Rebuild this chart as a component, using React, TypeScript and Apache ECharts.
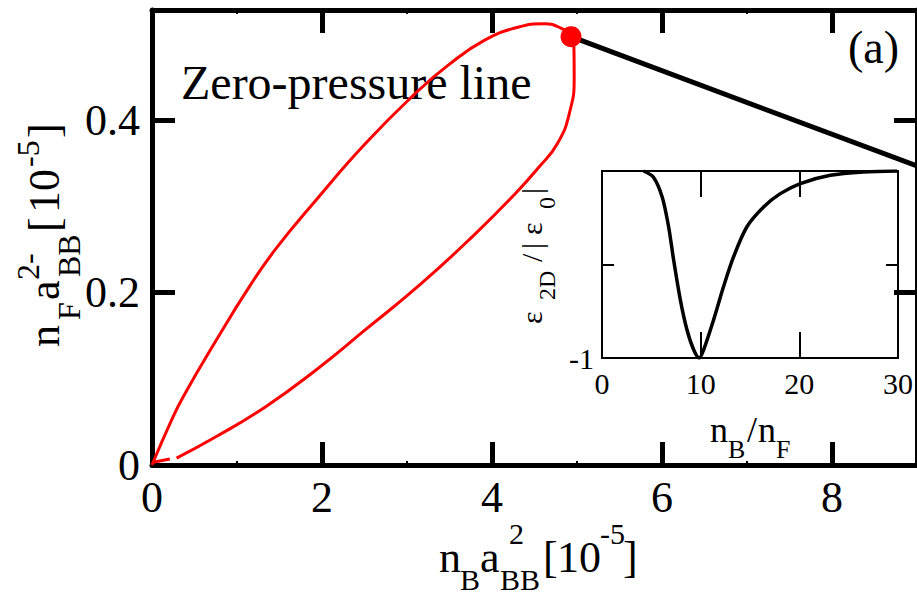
import React, { useEffect, useRef } from "react";
import * as echarts from "echarts";

const FONT = "Liberation Serif, Times New Roman, serif";

// Zero-pressure loop, traced from the origin along the upper branch to the marked point
const UPPER_X = [0, 0.23, 0.366, 0.757, 1.146, 1.458, 1.926, 2.511, 3.096, 3.485, 3.914, 4.304, 4.616, 4.81, 4.93];
const UPPER_Y = [0, 0.052, 0.079, 0.145, 0.207, 0.251, 0.307, 0.373, 0.431, 0.464, 0.493, 0.508, 0.512, 0.507, 0.497];
// ...and back down the lower branch towards the origin
const LOWER_X = [4.965, 4.967, 4.915, 4.77, 4.538, 4.265, 3.8, 3.173, 2.511, 1.926, 1.342, 0.757, 0.289];
const LOWER_Y = [0.478, 0.45, 0.41, 0.373, 0.344, 0.314, 0.268, 0.211, 0.157, 0.11, 0.068, 0.033, 0.008];
// short piece of the lower branch right at the origin
const STUB_X = [0, 0.21];
const STUB_Y = [0.003, 0.007];
// straight black line leaving the marked point
const TIE_X = [4.93, 9];
const TIE_Y = [0.497, 0.347];
const MARK_X = 4.93;
const MARK_Y = 0.497;

// inset: binding energy versus density ratio
const RATIO = [4.2, 5.2, 6.1, 6.75, 7.26, 7.94, 8.61, 9.29, 9.85, 10.3, 11.31, 12.32, 13.34, 14.69, 16.38, 18.07, 20.1, 23.14, 26.5, 29.9];
const ENERGY = [0, -0.032, -0.139, -0.298, -0.476, -0.689, -0.849, -0.956, -1, -0.956, -0.796, -0.618, -0.458, -0.298, -0.192, -0.121, -0.067, -0.023, -0.005, 0];

const zip = (xs: number[], ys: number[]) => xs.map((x, i) => [x, ys[i]]);

type Piece = { t: string; dx: number; k: "m" | "sub" | "sup" };

function formula(
  pieces: Piece[],
  x: number,
  y: number,
  rotation: number,
  main: number,
  small: number,
  subDy: number,
  supDy: number
) {
  return {
    type: "group",
    x,
    y,
    rotation,
    children: pieces.map((p) => ({
      type: "text",
      x: p.dx,
      y: p.k === "sub" ? subDy : p.k === "sup" ? supDy : 0,
      style: {
        text: p.t,
        fontSize: p.k === "m" ? main : small,
        fontFamily: FONT,
        fill: "#000",
        align: "left",
        verticalAlign: "middle",
        textAlign: "left",
        textVerticalAlign: "middle",
      },
    })),
  };
}

const X_NAME: Piece[] = [
  { t: "n", dx: 0, k: "m" },
  { t: "B", dx: 21, k: "sub" },
  { t: "a", dx: 41, k: "m" },
  { t: "BB", dx: 61, k: "sub" },
  { t: "2", dx: 70, k: "sup" },
  { t: "[", dx: 104, k: "m" },
  { t: "10", dx: 118, k: "m" },
  { t: "-5", dx: 161, k: "sup" },
  { t: "]", dx: 184, k: "m" },
];

const Y_NAME: Piece[] = [
  { t: "n", dx: 0, k: "m" },
  { t: "F", dx: 27, k: "sub" },
  { t: "a", dx: 47, k: "m" },
  { t: "2-", dx: 67, k: "sup" },
  { t: "BB", dx: 70, k: "sub" },
  { t: "[", dx: 115, k: "m" },
  { t: "10", dx: 134, k: "m" },
  { t: "-5", dx: 180, k: "sup" },
  { t: "]", dx: 209, k: "m" },
];

const INSET_X_NAME: Piece[] = [
  { t: "n", dx: 0, k: "m" },
  { t: "B", dx: 18, k: "sub" },
  { t: "/", dx: 37, k: "m" },
  { t: "n", dx: 48, k: "m" },
  { t: "F", dx: 66, k: "sub" },
];

const INSET_Y_NAME: Piece[] = [
  { t: "ε", dx: 3, k: "m" },
  { t: "2D", dx: 27, k: "sub" },
  { t: "/", dx: 65, k: "m" },
  { t: "|", dx: 78, k: "m" },
  { t: "ε", dx: 92, k: "m" },
  { t: "0", dx: 118, k: "sub" },
  { t: "|", dx: 133, k: "m" },
];

function frameAxis(extra: any) {
  return {
    type: "value",
    splitLine: { show: false },
    axisLine: { show: true, onZero: false, lineStyle: { color: "#000", width: 5 } },
    axisTick: { show: true, inside: true, length: 23, lineStyle: { color: "#000", width: 5 } },
    axisLabel: { show: false },
    ...extra,
  };
}

function insetAxis(extra: any, tickLen: number) {
  return {
    type: "value",
    splitLine: { show: false },
    axisLine: { show: true, onZero: false, lineStyle: { color: "#000", width: 2 } },
    axisTick: { show: true, inside: true, length: tickLen, lineStyle: { color: "#000", width: 2 } },
    axisLabel: { show: false },
    ...extra,
  };
}

const plain = (text: string, x: number, y: number, size: number) => ({
  type: "text",
  x,
  y,
  style: {
    text,
    fontSize: size,
    fontFamily: FONT,
    fill: "#000",
    align: "left",
    verticalAlign: "middle",
    textAlign: "left",
    textVerticalAlign: "middle",
  },
});

export default function App() {
  const ref = useRef<HTMLDivElement>(null);

  useEffect(() => {
    document.body.style.margin = "0";
    if (!ref.current) return;
    const chart = echarts.init(ref.current, null, { renderer: "svg" });

    const mainLabel = { show: true, fontSize: 44, fontFamily: FONT, color: "#000", showMaxLabel: false };
    const minor = { show: true, splitNumber: 2, length: 4, lineStyle: { color: "#000", width: 2 } };

    chart.setOption({
      animation: false,
      backgroundColor: "#fff",
      grid: [
        { left: 152, top: 10, right: -4, bottom: 135 },
        { left: 602, top: 171, right: 19, bottom: 242 },
      ],
      xAxis: [
        frameAxis({ gridIndex: 0, min: 0, max: 9, interval: 2, position: "bottom", minorTick: minor, axisLabel: { ...mainLabel, margin: 10 } }),
        frameAxis({ gridIndex: 0, min: 0, max: 9, interval: 2, position: "top", minorTick: minor }),
        insetAxis({ gridIndex: 1, min: 0, max: 30, interval: 10, position: "bottom", axisLabel: { show: true, fontSize: 30, fontFamily: FONT, color: "#000", margin: 10 } }, 26),
        insetAxis({ gridIndex: 1, min: 0, max: 30, interval: 10, position: "top" }, 26),
      ],
      yAxis: [
        frameAxis({ gridIndex: 0, min: 0, max: 0.528, interval: 0.2, position: "left", axisLabel: { ...mainLabel, margin: 12 } }),
        frameAxis({ gridIndex: 0, min: 0, max: 0.528, interval: 0.2, position: "right" }),
        insetAxis({
          gridIndex: 1, min: -1, max: 0, interval: 0.5, position: "left",
          axisLabel: { show: true, fontSize: 30, fontFamily: FONT, color: "#000", margin: 8, formatter: (v: number) => (v === -1 ? "-1" : "") },
        }, 12),
        insetAxis({ gridIndex: 1, min: -1, max: 0, interval: 0.5, position: "right" }, 12),
      ],
      series: [
        {
          type: "line", xAxisIndex: 0, yAxisIndex: 0,
          data: zip(UPPER_X.concat(LOWER_X), UPPER_Y.concat(LOWER_Y)),
          showSymbol: false, smooth: 0.5,
          lineStyle: { color: "#ff0000", width: 3 },
        },
        {
          type: "line", xAxisIndex: 0, yAxisIndex: 0,
          data: zip(STUB_X, STUB_Y),
          showSymbol: false,
          lineStyle: { color: "#ff0000", width: 3 },
        },
        {
          type: "line", xAxisIndex: 0, yAxisIndex: 0,
          data: zip(TIE_X, TIE_Y),
          showSymbol: false,
          lineStyle: { color: "#000", width: 5 },
        },
        {
          type: "scatter", xAxisIndex: 0, yAxisIndex: 0,
          data: [[MARK_X, MARK_Y]],
          symbolSize: 21,
          itemStyle: { color: "#ff0000", opacity: 1 },
          z: 5,
        },
        {
          type: "line", xAxisIndex: 2, yAxisIndex: 2,
          data: zip(RATIO, ENERGY),
          showSymbol: false, smooth: 0.3,
          lineStyle: { color: "#000", width: 3.5 },
        },
      ],
      graphic: [
        plain("Zero-pressure line", 181, 82, 48),
        plain("(a)", 848, 47, 46),
        formula(X_NAME, 439, 557, 0, 44, 30, 22, -24),
        formula(Y_NAME, 44, 347, Math.PI / 2, 44, 32, 25, -16),
        formula(INSET_X_NAME, 710, 430, 0, 36, 26, 19, -15),
        formula(INSET_Y_NAME, 531, 327, Math.PI / 2, 30, 24, 16, -12),
      ],
    });

    return () => chart.dispose();
  }, []);

  return <div ref={ref} style={{ width: 917, height: 600 }} />;
}
